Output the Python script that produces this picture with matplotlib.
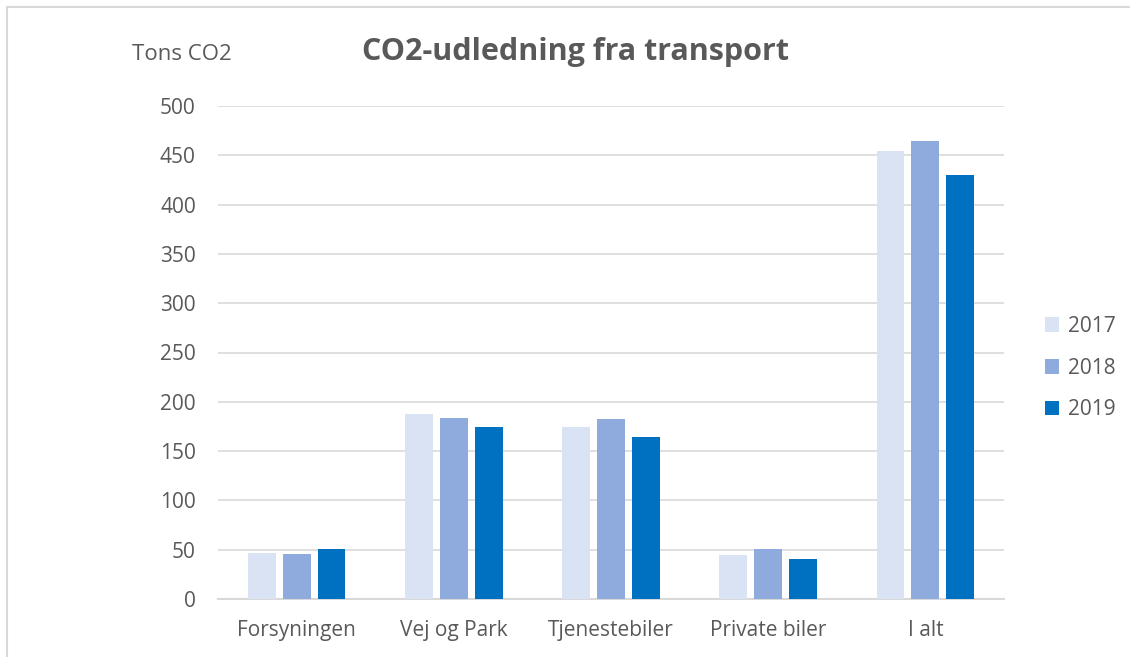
import matplotlib
matplotlib.use("Agg")
import matplotlib.pyplot as plt
from matplotlib.lines import Line2D
from matplotlib.patches import Patch
import numpy as np

categories = ["Forsyningen", "Vej og Park", "Tjenestebiler", "Private biler", "I alt"]
years = ["2017", "2018", "2019"]
v2017 = [47, 188, 174, 45, 454]
v2018 = [46, 184, 183, 51, 464]
v2019 = [51, 174, 164, 41, 430]
yticks = [0, 50, 100, 150, 200, 250, 300, 350, 400, 450, 500]
colors = ["#dae3f3", "#8faadc", "#0070c0"]

plt.rcParams['font.family'] = ['Open Sans', 'DejaVu Sans']
txt = "#595959"

fig = plt.figure(figsize=(11.3, 6.57), dpi=100)
ax = fig.add_axes([218/1130, 1-599/657, (1004-218)/1130, (599-106)/657])

x = np.arange(len(categories))
w = 0.178
step = 0.222
for i, (vals, c) in enumerate(zip([v2017, v2018, v2019], colors)):
    ax.bar(x + (i-1)*step, vals, width=w, color=c, zorder=3)

ax.set_xlim(-0.5, len(categories)-0.5)
ax.set_ylim(0, 500)
ax.set_yticks(yticks)
ax.set_yticklabels([str(t) for t in yticks])
ax.set_xticks(x)
ax.set_xticklabels(categories)
ax.tick_params(axis='both', length=0, labelsize=15, colors=txt)
ax.tick_params(axis='y', pad=16)
ax.tick_params(axis='x', pad=15)
ax.grid(axis='y', color='#d9d9d9', linewidth=1.2, zorder=0)
for s in ['top', 'right', 'left']:
    ax.spines[s].set_visible(False)
ax.spines['bottom'].set_color('#d9d9d9')
ax.spines['bottom'].set_linewidth(1.5)

fig.text(575/1130, 1-52/657, "CO2-udledning fra transport", ha='center', va='center',
         fontsize=22, fontweight='bold', color=txt)
fig.text(182/1130, 1-55/657, "Tons CO2", ha='center', va='center', fontsize=16, color=txt)

handles = [Patch(facecolor=c, edgecolor='none') for c in colors]
leg = fig.legend(handles, years, loc='center left', bbox_to_anchor=(1026/1130, 1-368/657),
                 frameon=False, fontsize=15, labelcolor=txt, handlelength=0.7, handleheight=0.7,
                 handletextpad=0.4, labelspacing=1.0)

# partial frame border
fig.add_artist(Line2D([7/1130, 1], [1-7/657, 1-7/657], color='#d9d9d9', linewidth=1.5))
fig.add_artist(Line2D([7/1130, 7/1130], [0, 1-7/657], color='#d9d9d9', linewidth=1.5))

fig.savefig("out.png", dpi=100)
